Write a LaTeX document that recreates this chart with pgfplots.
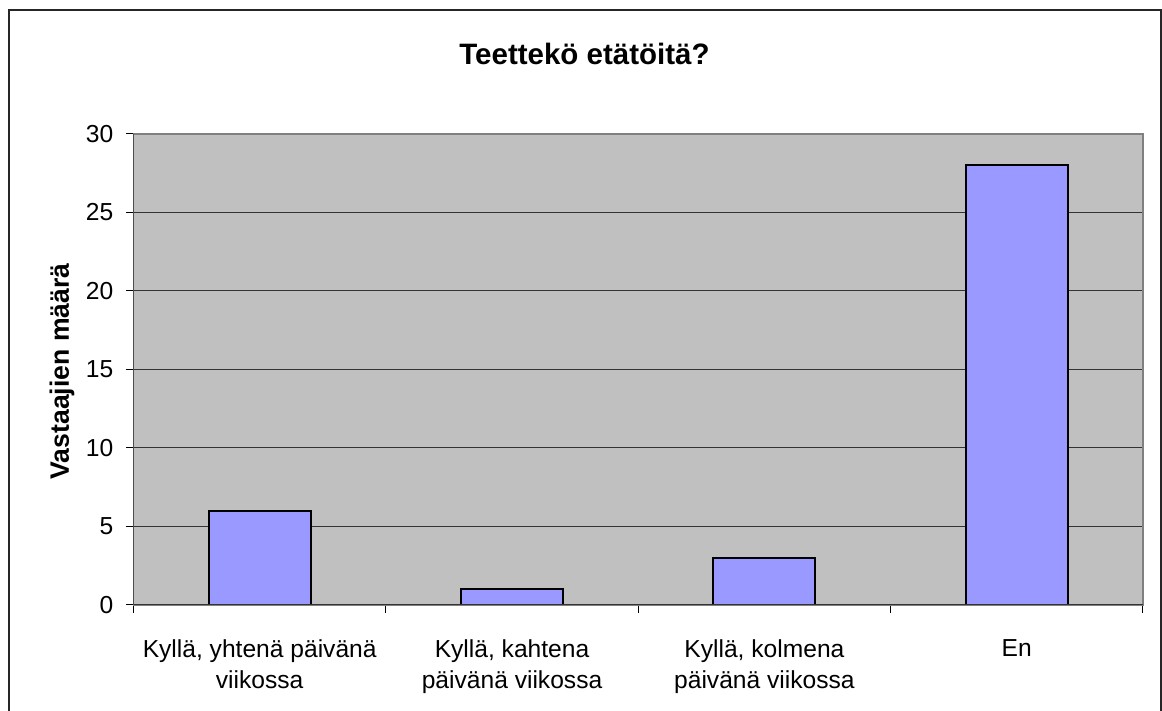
\documentclass[border=0pt]{standalone}
\usepackage{fontspec}
\setmainfont{Liberation Sans}
\usepackage{pgfplots}
\pgfplotsset{compat=1.18}
\definecolor{barblue}{HTML}{9999FF}
\definecolor{plotgray}{HTML}{C0C0C0}
\begin{document}
\begin{tikzpicture}[x=1pt,y=1pt]
\useasboundingbox (-133.5,-106) rectangle (1028.5,605);
\fill[white] (-133.5,-106) rectangle (1028.5,605);
\draw[black!85,line width=1.2pt] (-124.5,595) rectangle (1027.5,-120);
\node[anchor=base,font=\bfseries\fontsize{29.5}{34}\selectfont] at (451,540) {Teettekö etätöitä?};
\node[anchor=base,rotate=90,font=\bfseries\fontsize{26.6}{32}\selectfont] at (-64.5,233.5) {Vastaajien määrä};
\begin{axis}[
  at={(0,0)}, anchor=south west,
  scale only axis, width=1009.5pt, height=471pt,
  xmin=-0.5, xmax=3.5, ymin=0, ymax=30,
  axis background/.style={fill=plotgray},
  axis line style={draw=black!50, line width=1.5pt},
  ytick={0,5,...,30},
  xtick={0,1,2,3},
  xticklabels={{Kyllä, yhtenä päivänä\\viikossa},{Kyllä, kahtena\\päivänä viikossa},{Kyllä, kolmena\\päivänä viikossa},{En}},
  minor xtick={-0.5,0.5,1.5,2.5,3.5},
  major x tick style={draw=none},
  tick style={black, line width=1pt},
  minor tick length=8pt, major tick length=7pt,
  tick align=outside, xtick pos=bottom, ytick pos=left,
  ymajorgrids, major grid style={black!80, line width=1pt},
  tick label style={font=\fontsize{24.6}{31.5}\selectfont},
  /pgf/number format/assume math mode=true,
  xticklabel style={align=center, inner sep=0pt, anchor=north, yshift=-27pt},
  yticklabel style={inner sep=0pt, anchor=east, xshift=-13pt},
]
\addplot[ybar, bar width=102pt, bar shift=0pt, fill=barblue, draw=black, line width=2pt]
  coordinates {(0,6) (1,1) (2,3) (3,28)};
\draw[black!80, line width=1.5pt] (axis cs:-0.5,30) -- (axis cs:-0.5,0) -- (axis cs:3.5,0);
\end{axis}
\end{tikzpicture}
\end{document}
